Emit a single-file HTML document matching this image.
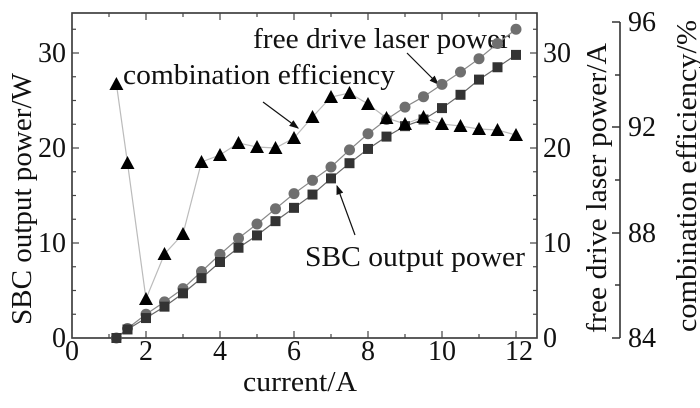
<!DOCTYPE html>
<html><head><style>body{margin:0;background:#fff}svg{display:block}text{font-family:"Liberation Serif",serif;fill:#111}</style></head><body>
<svg width="700" height="408" viewBox="0 0 700 408" xmlns="http://www.w3.org/2000/svg">
<defs><marker id="ah" markerWidth="8" markerHeight="8" refX="7" refY="4" orient="auto"><path d="M0,1 L8,4 L0,7 Z" fill="#111"/></marker></defs>
<g stroke="#333" stroke-width="1.6" fill="none">
<rect x="72" y="13" width="465" height="325"/>
<path d="M620,22 L620,338 M620,22 L612,22 M620,338 L612,338 M620,127 L612,127 M620,233 L612,233 M620,75 L615,75 M620,180 L615,180 M620,285 L615,285"/>
</g>
<g id="ticks" stroke="#444" stroke-width="1.2"></g>
<g font-size="28">
<text x="72" y="360" text-anchor="middle">0</text><text x="146" y="360" text-anchor="middle">2</text><text x="220" y="360" text-anchor="middle">4</text><text x="294" y="360" text-anchor="middle">6</text><text x="368" y="360" text-anchor="middle">8</text><text x="442" y="360" text-anchor="middle">10</text><text x="519" y="360" text-anchor="middle">12</text>
<text x="300" y="391" text-anchor="middle" textLength="114" lengthAdjust="spacingAndGlyphs">current/A</text>
<text x="66" y="347" text-anchor="end">0</text><text x="66" y="252" text-anchor="end">10</text><text x="66" y="157" text-anchor="end">20</text><text x="66" y="62" text-anchor="end">30</text>
<text x="543" y="347">0</text><text x="543" y="252">10</text><text x="543" y="157">20</text><text x="543" y="62">30</text>
<text x="628" y="347">84</text><text x="628" y="242">88</text><text x="628" y="136">92</text><text x="628" y="31">96</text>
<text transform="translate(31,199) rotate(-90)" text-anchor="middle" textLength="252" lengthAdjust="spacingAndGlyphs">SBC output power/W</text>
<text transform="translate(606,188) rotate(-90)" text-anchor="middle" textLength="290" lengthAdjust="spacingAndGlyphs">free drive laser power/A</text>
<text transform="translate(696,176) rotate(-90)" text-anchor="middle" textLength="312" lengthAdjust="spacingAndGlyphs">combination efficiency/%</text>
<text x="253" y="48" textLength="257" lengthAdjust="spacingAndGlyphs">free drive laser power</text>
<text x="123" y="84" textLength="272" lengthAdjust="spacingAndGlyphs">combination efficiency</text>
<text x="305" y="266" textLength="220" lengthAdjust="spacingAndGlyphs">SBC output power</text>
</g>
<g stroke="#111" stroke-width="1.2" marker-end="url(#ah)">
<line x1="407" y1="53" x2="438" y2="84"/><line x1="263" y1="102" x2="298" y2="128"/><line x1="355" y1="235" x2="337" y2="186"/>
</g>
<g id="series"></g>
</svg>
<script>
var s=document.getElementById('series'),t=document.getElementById('ticks'),ns='http://www.w3.org/2000/svg';
function X(v){return 72+v*37}function Y(v){return 338-v*9.5}
function el(n,a,p){var e=document.createElementNS(ns,n);for(var k in a)e.setAttribute(k,a[k]);(p||s).appendChild(e);return e}
for(var i=0;i<=12;i++){var x=X(i),l=i%2?4:7;el('line',{x1:x,y1:338,x2:x,y2:338-l},t);el('line',{x1:x,y1:13,x2:x,y2:13+l},t)}
for(var v=0;v<=32.5;v+=2.5){var y=Y(v),l=v%10?4:7;el('line',{x1:72,y1:y,x2:72+l,y2:y},t);el('line',{x1:537,y1:y,x2:537-l,y2:y},t)}
var xs=[1.2,1.5,2,2.5,3,3.5,4,4.5,5,5.5,6,6.5,7,7.5,8,8.5,9,9.5,10,10.5,11,11.5,12];
var c=[0,1,2.5,3.8,5.2,7,8.8,10.5,12,13.6,15.2,16.6,18,19.8,21.5,23,24.3,25.4,26.7,28,29.4,31,32.5];
var q=[0,0.9,2.1,3.3,4.7,6.3,8,9.5,10.8,12.3,13.7,15.1,16.8,18.4,19.9,21.2,22.3,23,24.2,25.6,27.2,28.5,29.8];
var e=[84,163,299,254,234,162,155,143,147,148,138,117,97,93,104,118,124,117,124,126,129,130,135];
function pl(ys,col,f){el('polyline',{points:xs.map(function(x,i){return X(x)+','+f(ys[i])}).join(' '),fill:'none',stroke:col,'stroke-width':1.2})}
pl(e,'#bbb',function(v){return v});pl(c,'#888',Y);pl(q,'#666',Y);
xs.forEach(function(x,i){var px=X(x);
el('circle',{cx:px,cy:Y(c[i]),r:5.5,fill:'#6f6f6f'});
el('rect',{x:px-5,y:Y(q[i])-5,width:10,height:10,fill:'#333'});
var y=e[i];el('polygon',{points:(px)+','+(y-7)+' '+(px-7)+','+(y+6)+' '+(px+7)+','+(y+6),fill:'#000'});});
</script>
</body></html>
